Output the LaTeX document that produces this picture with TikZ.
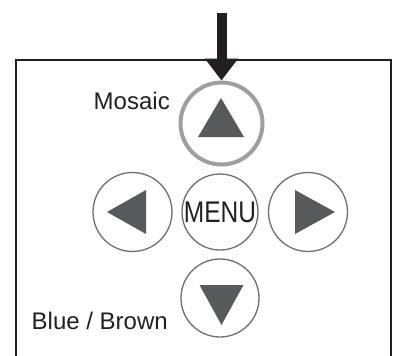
\documentclass[tikz,border=0pt]{standalone}
\usepackage{fontspec}
\setmainfont{Liberation Sans}
\usepackage{graphicx}
\usetikzlibrary{arrows.meta, positioning}
\definecolor{keyblack}{HTML}{231F20}
\definecolor{keygray}{HTML}{6D6E71}
\definecolor{keyring}{HTML}{9D9FA2}
\definecolor{keyfill}{HTML}{58595B}

\begin{document}
\begin{tikzpicture}[
    x=1bp, y=-1bp,
    every node/.style={font=\fontsize{24.1}{28}\selectfont, text=keyblack},
    key/.style={draw=keygray, circle, line width=1.3bp, inner sep=0pt},
    hotkey/.style={draw=keyring, circle, line width=4bp, inner sep=0pt, minimum size=82bp},
    tri/.style={fill=keyfill},
    frame/.style={draw=keyblack, line width=2bp},
    pointer/.style={draw=keyblack, line width=10bp, -{Triangle[width=32bp, length=22bp]}}
]
    \useasboundingbox (0,0) rectangle (396,356);

    % panel outline, open at the bottom
    \draw[frame] (16,356) -- (16,60) -- (391,60) -- (391,356);

    % keys
    \node[hotkey] (up) at (221.5,123.5) {};
    \node[key, minimum size=79bp] (left) at (132.5,212) {};
    \node[key, minimum size=76bp] (menu) at (220,212) {\fontsize{30}{30}\selectfont\scalebox{0.82}[1]{MENU}};
    \node[key, minimum size=79bp] (right) at (308,212) {};
    \node[key, minimum size=78bp] (down) at (220,298) {};

    % arrow glyphs
    \fill[tri] (up.center) ++(-0.5,-25.5) -- ++(23,39) -- ++(-46,0) -- cycle;
    \fill[tri] (left.center) ++(-25.5,0) -- ++(39,-22) -- ++(0,44) -- cycle;
    \fill[tri] (right.center) ++(27,0) -- ++(-40,-22) -- ++(0,44) -- cycle;
    \fill[tri] (down.center) ++(1.5,27) -- ++(-22,-40) -- ++(44,0) -- cycle;

    % labels
    \node[anchor=base east, inner sep=0pt] (mosaic) at (170,109) {Mosaic};
    \node[anchor=base east, inner sep=0pt] (bluebrown) at (168,329) {Blue / Brown};

    % pointer
    \coordinate (pointtop) at (up.north |- 0,13);
    \draw[pointer] (pointtop) -- (up.north);
\end{tikzpicture}
\end{document}
